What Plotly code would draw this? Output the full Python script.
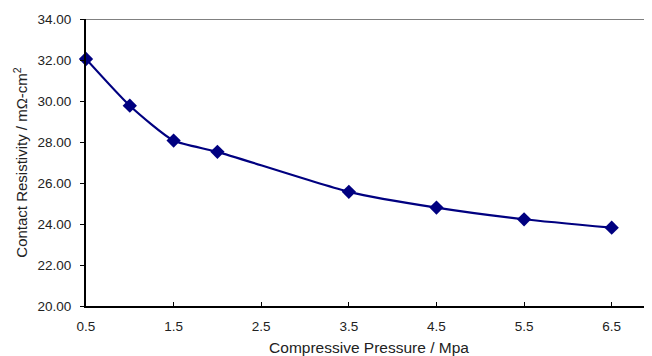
import plotly.graph_objects as go

pressure = [0.5, 1.0, 1.5, 2.0, 3.5, 4.5, 5.5, 6.5]
resistivity = [32.05, 29.77, 28.07, 27.52, 25.57, 24.80, 24.23, 23.82]
x_ticks = [0.5, 1.5, 2.5, 3.5, 4.5, 5.5, 6.5]
y_ticks = [20, 22, 24, 26, 28, 30, 32, 34]

fig = go.Figure()
fig.add_trace(go.Scatter(
    x=pressure, y=resistivity, mode="lines+markers",
    line=dict(color="#000080", width=2.2, shape="spline", smoothing=0.6),
    marker=dict(symbol="diamond", size=11, color="#000080"),
    cliponaxis=False, showlegend=False,
))

font = dict(family="Liberation Sans, Arial, sans-serif", color="#222222")
# page body has an 8px default margin, so the figure is sized/offset to compensate
fig.update_layout(
    width=644, height=348,
    margin=dict(l=78, r=0, t=11, b=50),
    paper_bgcolor="white", plot_bgcolor="white",
    font=font,
    xaxis=dict(
        range=[0.5, 6.96], tickvals=x_ticks, ticktext=[str(v) for v in x_ticks],
        showgrid=False, zeroline=False, showline=True, linecolor="black", linewidth=2,
        ticks="inside", ticklen=4, tickcolor="black", tickfont=dict(size=13.5),
        ticklabelstandoff=7,
        automargin=False,
        title=dict(text="Compressive Pressure / Mpa", font=dict(size=15.5), standoff=11),
    ),
    yaxis=dict(
        range=[20, 34], tickvals=y_ticks, tickformat=".2f",
        showgrid=False, zeroline=False, showline=True, linecolor="black", linewidth=2,
        ticks="outside", ticklen=4, tickcolor="black", tickfont=dict(size=13.5),
        ticklabelstandoff=6,
        automargin=False,
        title=dict(text="Contact Resistivity / mΩ-cm<sup>2</sup>", font=dict(size=15), standoff=6),
    ),
    shapes=[dict(type="line", xref="paper", yref="y", x0=0, x1=1, y0=34, y1=34,
                 line=dict(color="#808080", width=2), layer="below")],
)

fig.write_html("out.html")
